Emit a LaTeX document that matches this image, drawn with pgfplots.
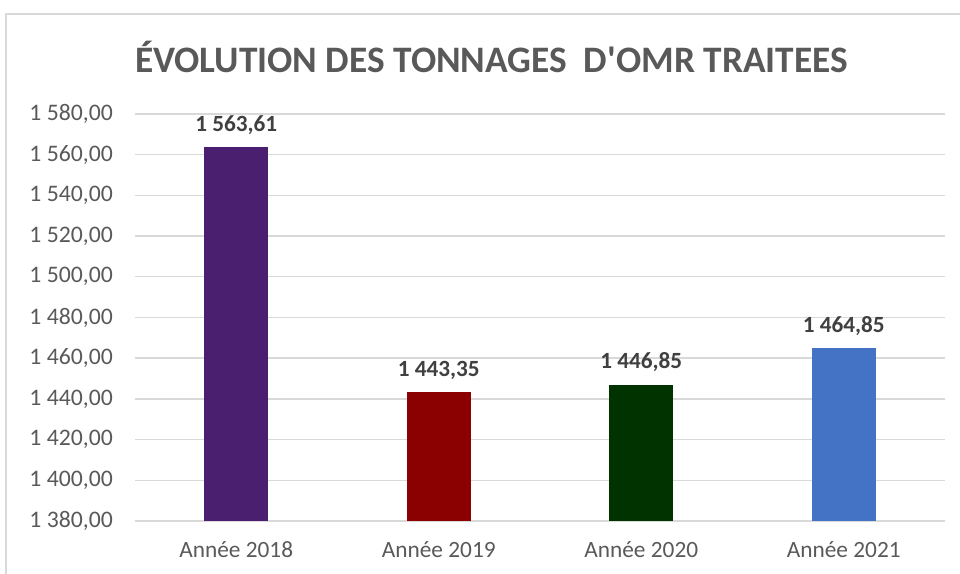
\documentclass[border=0pt]{standalone}
\usepackage{pgfplots}
\pgfplotsset{compat=1.18}
\usepackage{fontspec}
\setmainfont{Carlito}
\definecolor{cPurple}{HTML}{4B1F6F}
\definecolor{cRed}{HTML}{8B0000}
\definecolor{cGreen}{HTML}{003300}
\definecolor{cBlue}{HTML}{4472C4}
\definecolor{cGrid}{HTML}{D9D9D9}
\definecolor{cTick}{HTML}{595959}
\definecolor{cLab}{HTML}{404040}
\begin{document}
\begin{tikzpicture}[x=1bp,y=1bp]
\useasboundingbox (0,0) rectangle (960,574);
\draw[cGrid, line width=1.2bp] (6,-5) -- (6,560) -- (965,560);
\node[text=cTick, font=\fontsize{37.5}{40}\selectfont\bfseries, anchor=base, inner sep=0pt] at (491.5,501) {ÉVOLUTION DES TONNAGES\ \ D\textquotesingle OMR TRAITEES};
\begin{axis}[
  at={(135bp,53bp)}, anchor=south west,
  scale only axis, width=810bp, height=407bp,
  xmin=-0.5, xmax=3.5, ymin=1380, ymax=1580,
  ytick={1380,1400,...,1580},
  xtick={0,1,2,3},
  xticklabels={Année 2018,Année 2019,Année 2020,Année 2021},
  axis line style={draw=none},
  axis x line*=bottom,
  major tick length=0pt,
  ymajorgrids, grid style={cGrid, line width=1.4bp},
  tick label style={text=cTick, inner sep=0pt},
  yticklabel style={font=\fontsize{23.8}{26}\selectfont, xshift=-22bp},
  xticklabel style={font=\fontsize{23.4}{26}\selectfont, yshift=-20bp},
  /pgf/number format/assume math mode=true,
  yticklabel={\pgfmathprintnumber[fixed, fixed zerofill, precision=2, use comma, 1000 sep={\ }]{\tick}},
  ybar, bar width=64bp, bar shift=0pt,
  nodes near coords={\pgfmathprintnumber[fixed, fixed zerofill, precision=2, use comma, 1000 sep={\ }]{\pgfplotspointmeta}},
  nodes near coords style={text=cLab, font=\fontsize{23.3}{26}\selectfont\bfseries, anchor=base, inner sep=0pt, yshift=16bp},
  clip=false,
]
\draw[cGrid, line width=1.6bp] (axis cs:-0.5,1380) -- (axis cs:3.5,1380);
\addplot[fill=cPurple, draw=none, point meta=y] coordinates {(0,1563.61)};
\addplot[fill=cRed, draw=none, point meta=y] coordinates {(1,1443.35)};
\addplot[fill=cGreen, draw=none, point meta=y] coordinates {(2,1446.85)};
\addplot[fill=cBlue, draw=none, point meta=y] coordinates {(3,1464.85)};
\end{axis}
\end{tikzpicture}
\end{document}
